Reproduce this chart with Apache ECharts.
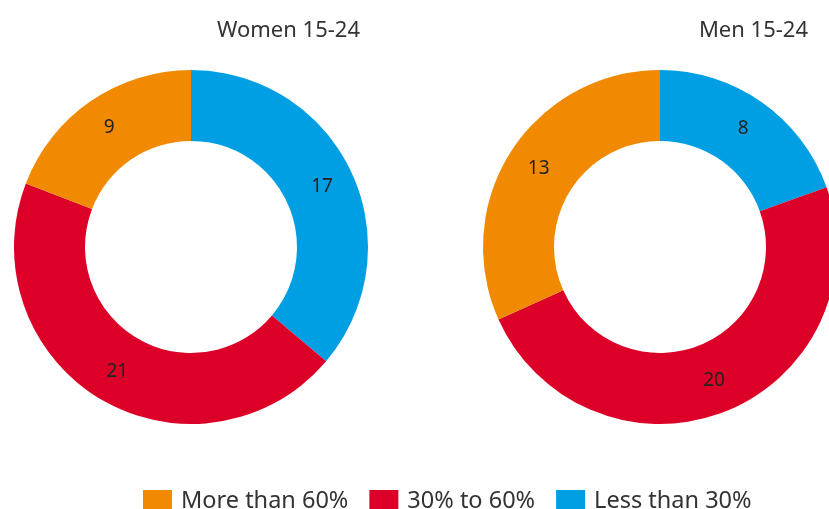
<!DOCTYPE html>
<html><head><meta charset="utf-8">
<script src="https://cdn.jsdelivr.net/npm/echarts@6/dist/echarts.min.js"></script>
<style>html,body{margin:0;padding:0;background:#fff}#c{width:829px;height:509px}</style>
</head><body><div id="c"></div>
<script>
const categories = ['Less than 30%', '30% to 60%', 'More than 60%'];
const legendOrder = ['More than 60%', '30% to 60%', 'Less than 30%'];
const women = [17, 21, 9];
const men = [8, 20, 13];
const titles = ['Women 15-24', 'Men 15-24'];
const colors = {'Less than 30%': '#009FE3', '30% to 60%': '#DC0028', 'More than 60%': '#F18A00'};

const font = '"Noto Sans", "Open Sans", sans-serif';
function mk(vals) {
  return categories.map((c, i) => ({name: c, value: vals[i], itemStyle: {color: colors[c]}}));
}
const chart = echarts.init(document.getElementById('c'));
chart.setOption({
  animation: false,
  title: [
    {text: titles[0], right: 829 - 360, top: 20, padding: 0, textStyle: {fontFamily: font, fontSize: 22, fontWeight: 'normal', color: '#333'}},
    {text: titles[1], right: 829 - 808, top: 20, padding: 0, textStyle: {fontFamily: font, fontSize: 22, fontWeight: 'normal', color: '#333'}}
  ],
  legend: {
    data: legendOrder, left: 143, top: 489, padding: 0, itemWidth: 29, itemHeight: 22, itemGap: 21, icon: 'rect',
    textStyle: {fontFamily: font, fontSize: 23.5, color: '#333', padding: [4, 0, 0, 4]}
  },
  series: [
    {type: 'pie', center: [191, 247], radius: [106, 177], startAngle: 90, clockwise: true,
     label: {position: 'inside', formatter: '{c}', fontFamily: font, fontSize: 19, color: '#222', padding: [4, 0, 0, 0]},
     labelLine: {show: false}, emphasis: {disabled: true}, data: mk(women)},
    {type: 'pie', center: [660, 247], radius: [106, 177], startAngle: 90, clockwise: true,
     label: {position: 'inside', formatter: '{c}', fontFamily: font, fontSize: 19, color: '#222', padding: [4, 0, 0, 0]},
     labelLine: {show: false}, emphasis: {disabled: true}, data: mk(men)}
  ]
});
</script></body></html>
